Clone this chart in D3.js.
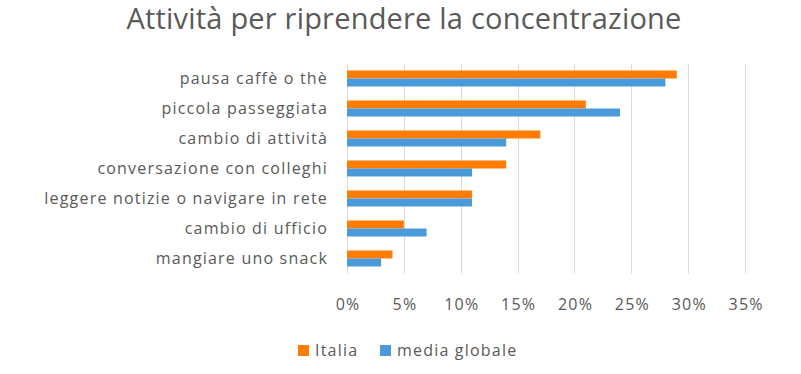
<!DOCTYPE html>
<html>
<head>
<meta charset="utf-8">
<script src="https://cdn.jsdelivr.net/npm/d3@7"></script>
<style>
  body { margin: 0; background: #fff; }
  svg text { font-family: "Open Sans", "Noto Sans", sans-serif; fill: #595959; }
  .lbl { font-size: 16px; letter-spacing: 1.2px; }
</style>
</head>
<body>
<div id="chart"></div>
<script>
const categories = [
  "pausa caffè o thè",
  "piccola passeggiata",
  "cambio di attività",
  "conversazione con colleghi",
  "leggere notizie o navigare in rete",
  "cambio di ufficio",
  "mangiare uno snack"
];
const seriesNames = ["Italia", "media globale"];
const italia = [0.29, 0.21, 0.17, 0.14, 0.11, 0.05, 0.04];
const mediaGlobale = [0.28, 0.24, 0.14, 0.11, 0.11, 0.07, 0.03];
const tickValues = [0, 0.05, 0.10, 0.15, 0.20, 0.25, 0.30, 0.35];
const colors = { "Italia": "#FF7C00", "media globale": "#4A9ADA" };

const width = 801, height = 374;
const margin = { top: 63.5, right: 56, bottom: 100.5, left: 347 };

const rows = categories.map((c, i) => ({
  category: c,
  values: [
    { series: "Italia", value: italia[i] },
    { series: "media globale", value: mediaGlobale[i] }
  ]
}));

const svg = d3.select("#chart").append("svg")
  .attr("width", width)
  .attr("height", height);

svg.append("text")
  .attr("x", 404)
  .attr("y", 29)
  .attr("text-anchor", "middle")
  .style("font-size", "29px")
  .style("letter-spacing", "0.2px")
  .text("Attività per riprendere la concentrazione");

const xScale = d3.scaleLinear()
  .domain([0, 0.35])
  .range([margin.left, width - margin.right]);

const yScale = d3.scaleBand()
  .domain(categories)
  .range([margin.top, height - margin.bottom])
  .paddingInner(0.467)
  .paddingOuter(0.2335);

const ySub = d3.scaleBand()
  .domain(seriesNames)
  .range([0, yScale.bandwidth()]);

// gridlines
svg.append("g")
  .selectAll("line")
  .data(tickValues)
  .join("line")
  .attr("x1", d => Math.round(xScale(d)) + 0.5)
  .attr("x2", d => Math.round(xScale(d)) + 0.5)
  .attr("y1", margin.top)
  .attr("y2", height - margin.bottom)
  .attr("stroke", "#D9D9D9")
  .attr("stroke-width", 1);

// x axis labels
const xAxis = svg.append("g")
  .attr("transform", `translate(0,${height - margin.bottom})`)
  .call(d3.axisBottom(xScale).tickValues(tickValues).tickFormat(d3.format(".0%")).tickSize(0).tickPadding(25));
xAxis.select(".domain").remove();
xAxis.selectAll("text").attr("class", "lbl").attr("fill", "#595959").attr("dx", "0.6px");

// y axis labels
const yAxis = svg.append("g")
  .attr("transform", `translate(${margin.left},0)`)
  .call(d3.axisLeft(yScale).tickSize(0).tickPadding(19));
yAxis.select(".domain").remove();
yAxis.selectAll("text").attr("class", "lbl").attr("fill", "#595959");

// bars
const groups = svg.append("g")
  .selectAll("g")
  .data(rows)
  .join("g")
  .attr("transform", d => `translate(0,${yScale(d.category)})`);

groups.selectAll("rect")
  .data(d => d.values)
  .join("rect")
  .attr("x", xScale(0))
  .attr("y", d => ySub(d.series))
  .attr("width", d => xScale(d.value) - xScale(0))
  .attr("height", ySub.bandwidth())
  .attr("fill", d => colors[d.series]);

// legend
const legendItems = [
  { name: "Italia", x: 298 },
  { name: "media globale", x: 380 }
];
const legend = svg.append("g").attr("transform", "translate(0,350)");
legend.selectAll("rect")
  .data(legendItems)
  .join("rect")
  .attr("x", d => d.x)
  .attr("y", -5)
  .attr("width", 11)
  .attr("height", 11)
  .attr("fill", d => colors[d.name]);
legend.selectAll("text")
  .data(legendItems)
  .join("text")
  .attr("class", "lbl")
  .attr("x", d => d.x + 17)
  .attr("y", 0)
  .attr("dy", "0.35em")
  .text(d => d.name);
</script>
</body>
</html>
